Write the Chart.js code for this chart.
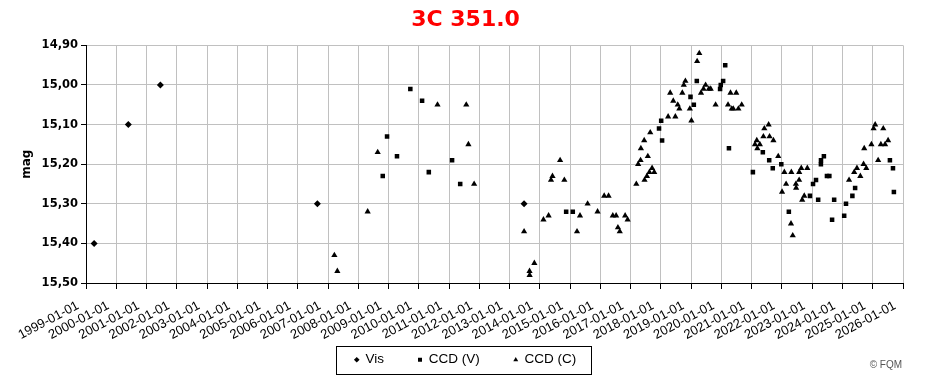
<!DOCTYPE html>
<html>
<head>
<meta charset="utf-8">
<script src="https://cdn.jsdelivr.net/npm/chart.js@4.4.1/dist/chart.umd.min.js"></script>
<style>
  html, body { margin: 0; padding: 0; background: #fff; }
  #wrap { position: relative; width: 931px; height: 386px; }
  #copy { position: absolute; right: 29px; top: 359px; font: 10px Arial, "Liberation Sans", sans-serif; color: #555; }
</style>
</head>
<body>
<div id="wrap">
  <canvas id="lc" width="931" height="386"></canvas>
  <div id="copy">© FQM</div>
</div>
<script>
// observations of 3C 351.0 (date, magnitude)
const visDates = ["1999-04-09", "2000-05-26", "2001-06-17", "2006-08-25", "2013-06-24"];
const visMags = [15.40, 15.10, 15.00, 15.30, 15.30];

const ccdVDates = [
  "2008-10-22", "2008-12-13", "2009-04-12", "2009-09-20", "2010-02-09", "2010-05-01",
  "2011-02-06", "2011-05-15", "2014-11-14", "2015-02-02", "2017-12-09", "2018-01-04",
  "2018-01-15", "2018-12-24", "2019-02-02", "2019-03-10", "2019-12-16", "2019-12-24",
  "2020-01-22", "2020-02-16", "2020-04-01", "2021-01-15", "2021-05-15", "2021-07-31",
  "2021-09-12", "2021-12-24", "2022-03-25", "2022-12-05", "2023-01-11", "2023-02-16",
  "2023-03-14", "2023-04-16", "2023-04-17", "2023-05-22", "2023-06-28", "2023-07-27",
  "2023-08-29", "2023-09-23", "2024-01-22", "2024-02-13", "2024-04-30", "2024-06-02",
  "2025-07-27", "2025-09-02", "2025-09-13"
];
const ccdVMags = [
  15.23, 15.13, 15.18, 15.01, 15.04, 15.22,
  15.19, 15.25, 15.32, 15.32, 15.11, 15.09,
  15.14, 15.03, 15.05, 14.99, 15.01, 15.00,
  14.99, 14.95, 15.16, 15.22, 15.17, 15.19,
  15.21, 15.20, 15.32, 15.28, 15.25, 15.24,
  15.29, 15.20, 15.19, 15.18, 15.23, 15.23,
  15.34, 15.29, 15.33, 15.30, 15.28, 15.26,
  15.19, 15.21, 15.27
];

const ccdCDates = [
  "2007-03-18", "2007-04-23", "2008-04-23", "2008-08-22", "2010-08-14", "2011-07-27",
  "2011-08-22", "2011-10-30", "2013-06-24", "2013-08-29", "2013-08-30", "2013-10-26",
  "2014-02-13", "2014-04-16", "2014-05-15", "2014-06-02", "2014-09-02", "2014-10-23",
  "2015-03-25", "2015-04-30", "2015-07-31", "2015-11-28", "2016-02-16", "2016-04-09",
  "2016-05-30", "2016-07-09", "2016-07-31", "2016-08-22", "2016-10-26", "2016-11-25",
  "2017-03-10", "2017-04-01", "2017-04-30", "2017-05-04", "2017-06-13", "2017-06-17",
  "2017-07-16", "2017-07-27", "2017-08-15", "2017-08-25", "2017-09-16", "2017-10-12",
  "2018-03-29", "2018-04-23", "2018-05-30", "2018-06-24", "2018-07-23", "2018-08-11",
  "2018-09-16", "2018-10-04", "2018-10-23", "2018-12-16", "2019-01-04", "2019-03-14",
  "2019-04-09", "2019-04-30", "2019-05-30", "2019-06-24", "2019-08-03", "2019-08-25",
  "2019-10-23", "2020-03-21", "2020-04-20", "2020-05-05", "2020-05-23", "2020-06-28",
  "2020-07-24", "2020-09-02", "2021-02-09", "2021-03-03", "2021-03-10", "2021-04-09",
  "2021-05-22", "2021-06-02", "2021-07-24", "2021-08-04", "2021-09-20", "2021-11-17",
  "2022-01-02", "2022-01-30", "2022-02-20", "2022-04-20", "2022-04-24", "2022-05-11",
  "2022-06-18", "2022-06-21", "2022-07-27", "2022-07-28", "2022-08-22", "2022-09-02",
  "2022-09-27", "2022-11-03", "2024-03-21", "2024-05-22", "2024-06-24", "2024-08-04",
  "2024-09-12", "2024-09-20", "2024-10-15", "2024-12-16", "2025-01-11", "2025-01-30",
  "2025-03-07", "2025-04-09", "2025-05-08", "2025-05-30", "2025-07-05"
];
const ccdCMags = [
  15.43, 15.47, 15.32, 15.17, 15.05, 15.05,
  15.15, 15.25, 15.37, 15.47, 15.48, 15.45,
  15.34, 15.33, 15.24, 15.23, 15.19, 15.24,
  15.37, 15.33, 15.30, 15.32, 15.28, 15.28,
  15.33, 15.33, 15.36, 15.37, 15.33, 15.34,
  15.25, 15.20, 15.19, 15.16, 15.14, 15.24,
  15.23, 15.18, 15.22, 15.12, 15.21, 15.22,
  15.08, 15.02, 15.04, 15.08, 15.05, 15.06,
  15.02, 15.00, 14.99, 15.06, 15.09, 14.94,
  14.92, 15.02, 15.01, 15.00, 15.01, 15.01,
  15.05, 15.05, 15.02, 15.06, 15.06, 15.02,
  15.06, 15.05, 15.15, 15.14, 15.16, 15.15,
  15.13, 15.11, 15.10, 15.13, 15.14, 15.18,
  15.27, 15.22, 15.25, 15.35, 15.22, 15.38,
  15.25, 15.26, 15.24, 15.22, 15.21, 15.29,
  15.28, 15.21, 15.24, 15.22, 15.21, 15.23,
  15.20, 15.16, 15.21, 15.15, 15.11, 15.10,
  15.19, 15.15, 15.11, 15.15, 15.14
];

const seriesNames = ["Vis", "CCD (V)", "CCD (C)"];
const firstYear = 1999;
const lastYear = 2026;
const magTicks = [14.90, 15.00, 15.10, 15.20, 15.30, 15.40, 15.50];

const toTime = d => Date.parse(d + "T00:00:00Z");
const pts = (dates, mags) => dates.map((d, i) => ({ x: toTime(d), y: mags[i] }));

const LEGEND_H = 67;

Chart.register({
  id: 'legendBox',
  // fixed legend height so the wide item spacing doesn't eat the plot
  afterInit: chart => {
    const lg = chart.legend;
    const fit = lg.fit;
    lg.fit = function () { fit.call(this); this.height = LEGEND_H; };
  },
  // box around the legend items like the excel one
  afterDraw: chart => {
    const lg = chart.legend;
    if (!lg || !lg.legendHitBoxes.length) return;
    const boxes = lg.legendHitBoxes;
    const l = Math.min(...boxes.map(b => b.left)) - 19;
    const r = Math.max(...boxes.map(b => b.left + b.width)) + 15;
    const t = boxes[0].top - 7;
    const b = boxes[0].top + boxes[0].height + 7;
    const ctx = chart.ctx;
    ctx.save();
    ctx.strokeStyle = '#000';
    ctx.lineWidth = 1;
    ctx.strokeRect(Math.round(l) + 0.5, Math.round(t) + 0.5, Math.round(r - l), Math.round(b - t));
    ctx.restore();
  }
});

const mk = (label, data, style, radius) => ({
  label: label,
  data: data,
  showLine: false,
  pointStyle: style,
  pointRadius: radius,
  pointHoverRadius: radius,
  backgroundColor: '#000',
  borderColor: '#000',
  borderWidth: 0
});

new Chart(document.getElementById('lc'), {
  type: 'scatter',
  data: {
    datasets: [
      mk(seriesNames[0], pts(visDates, visMags), 'rectRot', 3.5),
      mk(seriesNames[1], pts(ccdVDates, ccdVMags), 'rect', 3.2),
      mk(seriesNames[2], pts(ccdCDates, ccdCMags), 'triangle', 3.6)
    ]
  },
  options: {
    responsive: false,
    animation: false,
    layout: { padding: 0 },
    plugins: {
      title: {
        display: true,
        text: '3C 351.0',
        color: '#ff0000',
        font: { family: '"DejaVu Sans"', size: 22, weight: 'bold' },
        padding: { top: 7, bottom: 12 }
      },
      legend: {
        position: 'bottom',
        labels: {
          usePointStyle: true,
          boxWidth: 4,
          boxHeight: 4,
          padding: 34,
          color: '#000',
          font: { family: 'Arial, "Liberation Sans"', size: 13.5 }
        }
      },
      tooltip: { enabled: false }
    },
    scales: {
      // date axis pinned to the bottom of the mag range so its labels aren't clipped
      x: {
        type: 'linear',
        position: { y: 15.5 },
        min: Date.UTC(firstYear, 0, 1),
        max: Date.UTC(lastYear, 0, 1),
        afterBuildTicks: s => {
          const t = [];
          for (let y = firstYear; y <= lastYear; y++) t.push({ value: Date.UTC(y, 0, 1) });
          s.ticks = t;
        },
        grid: { color: '#c0c0c0', tickColor: '#000', tickLength: 5 },
        border: { color: '#000', width: 1 },
        ticks: {
          autoSkip: false,
          minRotation: 28,
          maxRotation: 28,
          padding: 10,
          labelOffset: -8,
          color: '#000',
          font: { family: 'Arial, "Liberation Sans"', size: 13 },
          callback: v => new Date(v).getUTCFullYear() + '-01-01'
        }
      },
      // empty band below the plot that holds the date labels
      xGap: {
        type: 'linear',
        position: 'bottom',
        afterFit: s => { s.height = 36; },
        grid: { display: false },
        border: { display: false },
        ticks: { display: false }
      },
      y: {
        reverse: true,
        min: 14.9,
        max: 15.5,
        afterBuildTicks: s => { s.ticks = magTicks.map(v => ({ value: v })); },
        afterFit: s => { s.width = 86; },
        grid: { color: '#c0c0c0', tickColor: '#000', tickLength: 5 },
        border: { color: '#000', width: 1 },
        title: {
          display: true,
          text: 'mag',
          color: '#000',
          font: { family: '"DejaVu Sans"', size: 12, weight: 'bold' },
          padding: { top: 20, bottom: 0 }
        },
        ticks: {
          color: '#000',
          padding: 3,
          font: { family: '"DejaVu Sans"', size: 11.5, weight: 'bold' },
          callback: v => v.toFixed(2).replace('.', ',')
        }
      },
      // empty right margin so the title and legend centre on the whole canvas
      yRight: {
        position: 'right',
        afterFit: s => { s.width = 28; },
        grid: { display: false },
        border: { display: false },
        ticks: { display: false }
      }
    }
  }
});
</script>
</body>
</html>
